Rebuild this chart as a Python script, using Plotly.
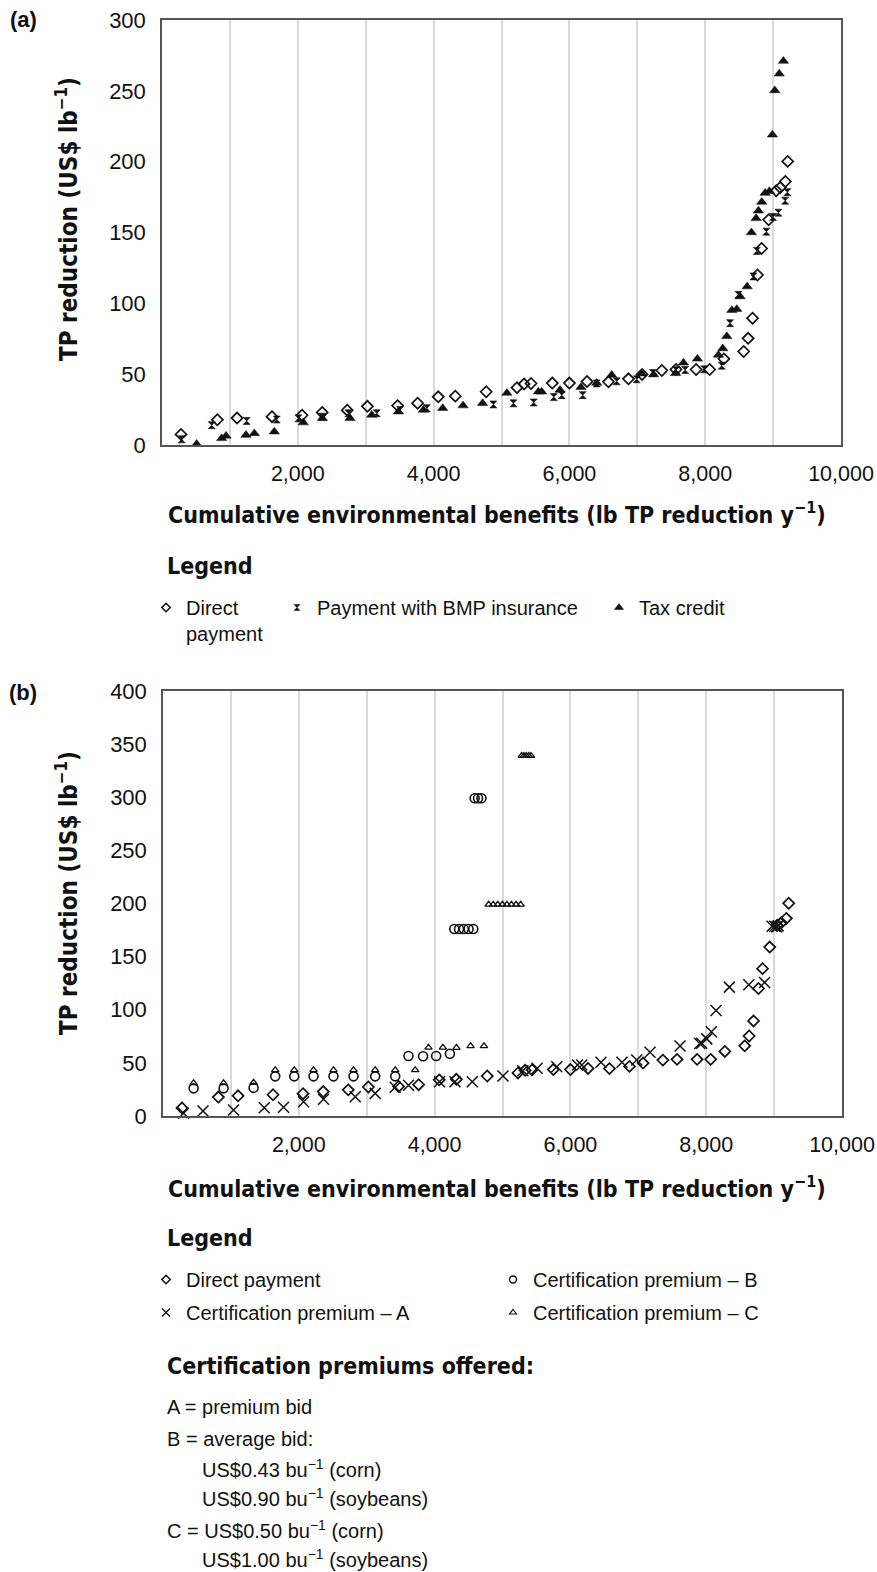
import plotly.graph_objects as go

# ---------------- Data ----------------
# Panel (a) and (b): Direct payment
dp_x = [280, 815, 1105, 1620, 2062, 2360, 2728, 3025, 3470, 3765, 4068, 4320, 4775, 5228, 5332, 5435, 5748, 6000, 6260, 6575,
        6870, 7070, 7362, 7570, 7866, 8066, 8275, 8567, 8632, 8697, 8770, 8830, 8935, 9045, 9105, 9180, 9215]
dp_y = [7.5, 17.8, 19, 20, 21, 23, 24.6, 27.3, 27.8, 29.5, 34, 34.5, 37.6, 40.5, 43, 43.4, 43.7, 43.7, 44.8, 44.6,
        46.7, 49.8, 52.6, 53.3, 53.3, 53.3, 60.8, 66, 75.3, 89.5, 120, 138.7, 159, 179.5, 181.8, 186, 200.2]

# Panel (a): Payment with BMP insurance
bmp_x = [290, 732, 1247, 1690, 2008, 2362, 2745, 3163, 3506, 3900, 4880, 5175, 5475, 5770, 5887, 6196, 6402, 6697, 6992, 7230,
         7570, 7704, 7984, 8244, 8366, 8489, 8710, 8760, 8900, 9000, 9077, 9177, 9210]
bmp_y = [4, 14, 17, 18, 18.8, 20, 22.4, 22.4, 24.7, 26, 28.6, 29.4, 30, 33.8, 35.2, 35.2, 43.5, 45, 46.4, 50.8,
         52.8, 53, 53.4, 56, 86, 106, 119, 137, 150.6, 161, 164, 172.5, 178.5]

# Panel (a): Tax credit
tc_x = [510, 878, 943, 1237, 1360, 1654, 2081, 2362, 2770, 3089, 3481, 3850, 4134, 4434, 4721, 5080, 5543, 5592, 5862, 6170,
        6402, 6623, 7065, 7240, 7564, 7680, 7885, 8195, 8259, 8318, 8392, 8465, 8514, 8618, 8681, 8750, 8784, 8833, 8882, 8946,
        8990, 9025, 9090, 9152]
tc_y = [0.7, 4.7, 6.4, 7, 8.2, 9.4, 15.8, 18.8, 18.8, 21.2, 23.5, 24.7, 26, 27.8, 29.4, 36.7, 37.6, 37.6, 38.8, 40.8,
        43.7, 49.4, 50.3, 49.7, 50.6, 58, 60.8, 63.5, 68.1, 76.7, 95.2, 95.9, 104.8, 111.8, 150, 160, 165.3, 171.5, 177.8, 179.2,
        219, 250.3, 262, 271]

# Panel (b): Certification premium A
ca_x = [303, 589, 1039, 1491, 1775, 2070, 2364, 2831, 3125, 3420, 3616, 4072, 4300, 4555, 5007, 5300, 5510, 5800, 6105, 6168,
        6450, 6760, 6977, 7173, 7615, 7905, 7934, 8008, 8076, 8145, 8341, 8628, 8860, 8970, 9010, 9040, 9060]
ca_y = [2.5, 4.7, 5.6, 7.8, 8.2, 13.5, 15.7, 18.2, 21.3, 27, 29, 32.3, 32.3, 32.3, 37.6, 42.5, 44.9, 46.4, 48, 48,
        50.5, 50.5, 52.7, 60, 65.9, 68.3, 68.4, 72.6, 79.3, 99.3, 121.3, 123.6, 125.7, 178.5, 178.5, 178, 179]

# Panel (b): Certification premium B
cb_x = [451, 892, 1334, 1653, 1933, 2217, 2511, 2806, 3125, 3420, 3615, 3830, 4023, 4225,
        4290, 4360, 4430, 4500, 4570, 4590, 4640, 4690]
cb_y = [26, 26, 26.5, 37.3, 37.3, 37.3, 37.3, 37.3, 37.3, 37.3, 56.5, 56.2, 56.5, 58.6,
        176, 176, 176, 176, 176, 299, 299, 299]

# Panel (b): Certification premium C
cc_x = [451, 892, 1334, 1653, 1933, 2217, 2511, 2806, 3125, 3420, 3714, 3910, 4122, 4322, 4530, 4727,
        4796, 4863, 4930, 4998, 5065, 5132, 5200, 5267, 5282, 5316, 5350, 5385, 5419]
cc_y = [31, 31, 31.4, 43.3, 43.3, 43.3, 43.3, 43.3, 43.3, 43.3, 43.3, 64.5, 64.5, 64.3, 65.9, 65.9,
        199, 199, 199, 199, 199, 199, 199, 199, 339, 339, 339, 339, 339]

x_ticks = [2000, 4000, 6000, 8000, 10000]
x_ticklabels = ["2,000", "4,000", "6,000", "8,000", "10,000"]
ya_ticks = [0, 50, 100, 150, 200, 250, 300]
yb_ticks = [0, 50, 100, 150, 200, 250, 300, 350, 400]

# ---------------- Figure ----------------
W, H = 877, 1572
OFF = 0  # page margin is removed below, so the figure starts at the page corner
BLACK = "#111111"
BODY = "Liberation Sans, Arial, sans-serif"
HEAD = "DejaVu Sans Condensed, Liberation Sans Narrow, Arial Narrow, sans-serif"

def px_x(p):
    return (p - OFF) / W

def px_y(p):
    return 1 - (p - OFF) / H

fig = go.Figure()

def add_series(x, y, xa, ya, symbol, size, lw):
    fig.add_trace(go.Scatter(
        x=x, y=y, xaxis=xa, yaxis=ya, mode="markers", showlegend=False, cliponaxis=False,
        marker=dict(symbol=symbol, size=size, color=BLACK,
                    line=dict(color=BLACK, width=lw)),
        hoverinfo="x+y"))

# Panel (a)
add_series(dp_x, dp_y, "x", "y", "diamond-open", 8.5, 1.7)
add_series(bmp_x, bmp_y, "x", "y", "hourglass", 7, 0.6)
add_series(tc_x, tc_y, "x", "y", "triangle-up", 9, 0.5)
# Panel (b)
add_series(dp_x, dp_y, "x2", "y2", "diamond-open", 8.5, 1.7)
add_series(ca_x, ca_y, "x2", "y2", "x-thin-open", 11, 1.5)
add_series(cb_x, cb_y, "x2", "y2", "circle-open", 9, 1.6)
add_series(cc_x, cc_y, "x2", "y2", "triangle-up-open", 6.5, 1.3)

# legend entries (empty traces, smaller swatches like the reference legend)
def add_legend_entry(name, legend, symbol, size, lw, xa="x", ya="y"):
    fig.add_trace(go.Scatter(
        x=[None], y=[None], xaxis=xa, yaxis=ya, mode="markers", name=name, legend=legend,
        marker=dict(symbol=symbol, size=size, color=BLACK, line=dict(color=BLACK, width=lw))))

add_legend_entry("Direct<br>payment", "legend", "diamond-open", 6.5, 1.5)
add_legend_entry("Payment with BMP insurance", "legend2", "hourglass", 6, 0.5)
add_legend_entry("Tax credit", "legend3", "triangle-up", 8, 0.5)
add_legend_entry("Direct payment", "legend4", "diamond-open", 6.5, 1.5, "x2", "y2")
add_legend_entry("Certification premium – A", "legend5", "x-thin-open", 8, 1.3, "x2", "y2")
add_legend_entry("Certification premium – B", "legend6", "circle-open", 7, 1.4, "x2", "y2")
add_legend_entry("Certification premium – C", "legend7", "triangle-up-open", 6, 1.2, "x2", "y2")

def legend_at(text_left_px, center_px):
    return dict(x=px_x(text_left_px - 40), y=px_y(center_px - 17), xanchor="left", yanchor="top",
                bgcolor="rgba(0,0,0,0)", borderwidth=0, valign="top", itemsizing="trace",
                font=dict(family=BODY, size=20, color=BLACK), itemclick=False, itemdoubleclick=False)

axis_common = dict(showline=True, linecolor="#555555", linewidth=1.5, mirror=True, zeroline=False,
                   automargin=False, ticks="", ticklabeloverflow="allow", fixedrange=True)

xa_common = dict(axis_common, range=[0, 10000], tickmode="array", tickvals=x_ticks, ticktext=x_ticklabels,
                 tickfont=dict(family=BODY, size=21.5, color=BLACK),
                 showgrid=True, gridcolor="#d9d9d9", gridwidth=1.5, ticklabelstandoff=8,
                 minor=dict(tick0=0, dtick=1000, showgrid=True, gridcolor="#d9d9d9", gridwidth=1.5, ticks=""))

ya_common = dict(axis_common, tickmode="array", showgrid=False, ticklabelstandoff=10,
                 tickfont=dict(family=BODY, size=22, color=BLACK))

fig.update_layout(
    width=W, height=H, paper_bgcolor="white", plot_bgcolor="white",
    margin=dict(l=0, r=0, t=0, b=0, autoexpand=False), showlegend=True,
    xaxis=dict(xa_common, domain=[px_x(162), px_x(841)], anchor="y"),
    yaxis=dict(ya_common, domain=[px_y(445), px_y(20)], range=[0, 300], tickvals=ya_ticks, anchor="x"),
    xaxis2=dict(xa_common, domain=[px_x(163), px_x(842)], anchor="y2"),
    yaxis2=dict(ya_common, domain=[px_y(1116), px_y(691)], range=[0, 400], tickvals=yb_ticks, anchor="x2"),
    legend=legend_at(186, 605),
    legend2=legend_at(317, 605),
    legend3=legend_at(639, 605),
    legend4=legend_at(186, 1277),
    legend5=legend_at(186, 1310),
    legend6=legend_at(533, 1277),
    legend7=legend_at(533, 1310),
)

def note(text, x, y, size, family=BODY, xanchor="left", angle=0):
    fig.add_annotation(text=text, x=px_x(x), y=px_y(y), xref="paper", yref="paper",
                       xanchor=xanchor, yanchor="middle", showarrow=False, textangle=angle,
                       font=dict(family=family, size=size, color=BLACK))

xtitle = "<b>Cumulative environmental benefits (lb TP reduction y<sup>−1</sup>)</b>"
ytitle = "<b>TP reduction (US$ lb<sup>−1</sup>)</b>"

note("<b>(a)</b>", 23, 20, 22, BODY, "center")
note("<b>(b)</b>", 23, 692, 22, BODY, "center")
note(xtitle, 497, 513, 23, HEAD, "center")
note(xtitle, 497, 1187, 23, HEAD, "center")
note(ytitle, 67, 219, 24, HEAD, "center", -90)
note(ytitle, 67, 893, 24, HEAD, "center", -90)
note("<b>Legend</b>", 165, 566, 23, HEAD)
note("<b>Legend</b>", 165, 1238, 23, HEAD)
note("<b>Certification premiums offered:</b>", 165, 1366, 23, HEAD)
note("A = premium bid", 165, 1407, 20)
note("B = average bid:", 165, 1439, 20)
note("US$0.43 bu<sup>−1</sup> (corn)", 200, 1468, 20)
note("US$0.90 bu<sup>−1</sup> (soybeans)", 200, 1497, 20)
note("C = US$0.50 bu<sup>−1</sup> (corn)", 165, 1529, 20)
note("US$1.00 bu<sup>−1</sup> (soybeans)", 200, 1558, 20)

fig.write_html("out.html", config={"displayModeBar": False},
               post_script="document.body.style.margin='0';")
